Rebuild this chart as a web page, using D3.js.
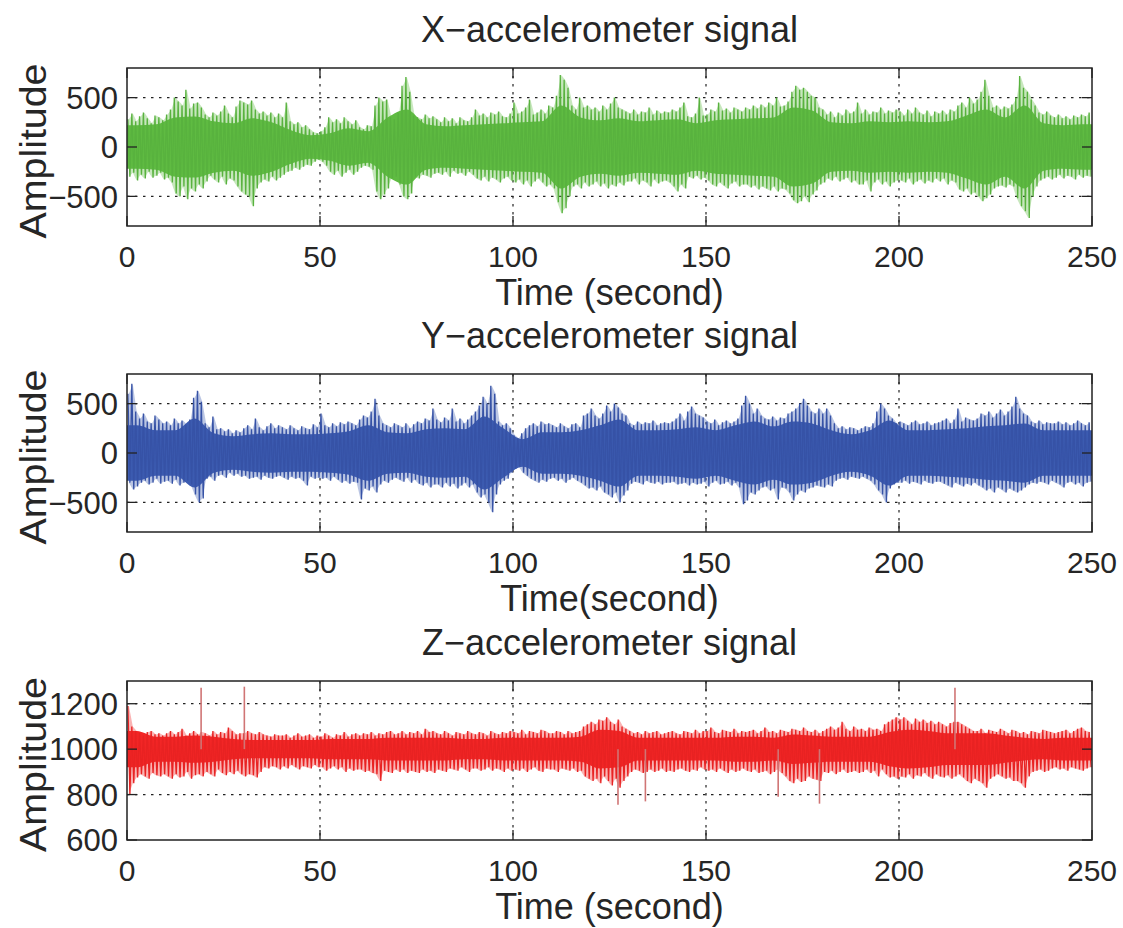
<!DOCTYPE html>
<html><head><meta charset="utf-8">
<script src="https://cdn.jsdelivr.net/npm/d3@7"></script>
<style>
body{margin:0;background:#fff;}
text{font-family:"Liberation Sans",Arial,Helvetica,sans-serif;fill:#262626;}
</style>
</head><body>
<svg id="chart" width="1123" height="928"></svg>
<script>
// ---------- DATA ----------
const xTickValues = [0, 50, 100, 150, 200, 250];
const xyTickValues = [-500, 0, 500];
const zTickValues = [600, 800, 1000, 1200];

// outer envelope (spike tips), 1-second bins, t = 0..249
const xHi = [280,340,260,310,350,290,240,320,300,270, 330,380,500,460,420,580,390,440,450,400,
 330,300,350,320,360,420,340,300,410,470, 450,430,470,380,340,360,320,350,300,340,
 300,450,260,230,250,200,220,180,150,140, 160,200,300,250,280,240,300,260,230,270,
 200,180,220,210,420,500,460,480,300,280, 350,620,710,560,320,300,280,330,290,310,
 280,250,300,260,290,240,300,270,260,300, 380,320,340,300,350,330,360,310,300,340,
 450,340,360,400,480,330,350,380,340,420, 400,520,730,680,600,420,380,500,400,420,
 380,400,360,420,380,440,500,400,380,360, 340,380,330,360,350,400,330,370,340,360,
 350,380,360,400,450,310,300,340,500,320, 330,380,360,450,370,390,350,400,380,360,
 400,380,420,390,430,400,450,420,500,410, 420,460,560,620,580,600,560,520,500,400,
 380,330,360,300,350,320,380,340,360,450, 340,380,330,360,350,400,340,370,350,380,
 360,320,380,340,400,350,330,370,310,360, 340,370,330,380,360,420,450,400,500,440,
 480,560,680,520,400,420,380,410,390,430, 500,720,600,560,480,420,350,330,360,320,
 300,330,290,310,280,320,300,330,310,350];
const xLo = [-300,-260,-340,-280,-320,-250,-310,-290,-260,-330, -310,-360,-470,-500,-400,-530,-420,-450,-380,-420,
 -350,-290,-330,-360,-300,-380,-320,-340,-400,-450, -480,-500,-600,-420,-360,-330,-350,-300,-340,-310,
 -280,-250,-240,-210,-230,-200,-180,-190,-150,-130, -150,-190,-250,-280,-240,-300,-260,-230,-280,-250,
 -210,-190,-200,-230,-450,-530,-480,-420,-320,-300, -380,-500,-530,-470,-300,-320,-280,-290,-310,-270,
 -260,-280,-250,-300,-240,-270,-260,-290,-250,-280, -320,-340,-300,-350,-310,-330,-360,-320,-300,-340,
 -360,-330,-380,-340,-400,-350,-320,-360,-400,-380, -420,-560,-670,-620,-500,-400,-380,-420,-360,-400,
 -380,-350,-400,-370,-420,-380,-400,-360,-390,-350, -350,-320,-380,-340,-360,-400,-330,-370,-350,-340,
 -360,-400,-450,-380,-420,-300,-320,-290,-330,-310, -340,-380,-400,-360,-390,-420,-370,-350,-400,-380,
 -380,-410,-390,-430,-400,-420,-440,-400,-450,-420, -430,-470,-540,-570,-550,-500,-560,-480,-440,-380,
 -360,-320,-340,-300,-350,-330,-310,-360,-340,-380, -380,-340,-450,-360,-330,-380,-350,-400,-360,-340,
 -340,-360,-320,-380,-350,-330,-370,-340,-360,-320, -350,-320,-380,-340,-360,-430,-450,-420,-480,-460,
 -500,-550,-520,-480,-420,-400,-390,-410,-380,-400, -520,-600,-650,-720,-500,-400,-340,-320,-300,-330,
 -310,-280,-320,-290,-300,-330,-280,-310,-290,-300];
// dense-band half width, 5-second bins (50 values)
const xCore = [220,230,300,310,260,240,290,250,170,120,
 140,190,160,300,380,230,210,220,230,240,
 250,260,420,300,270,290,260,270,280,240,
 270,280,290,300,400,370,250,240,260,250,
 260,250,260,320,380,300,420,240,220,230];

const yHi = [600,700,420,350,400,320,300,380,340,300, 320,280,350,300,330,290,340,560,630,520,
 300,260,370,240,250,220,240,200,230,210, 250,280,240,350,260,230,270,300,250,280,
 260,240,280,250,230,270,250,240,290,260, 400,280,260,300,270,310,290,320,300,280,
 340,380,360,420,550,380,300,280,260,300, 280,260,300,250,290,320,300,350,330,450,
 340,310,360,330,450,320,350,300,340,380, 420,480,570,500,680,600,320,280,300,250,
 180,150,200,250,280,300,270,320,290,300, 280,260,300,270,250,290,300,260,380,400,
 450,380,350,400,480,420,500,460,400,380, 300,280,320,290,310,300,330,280,300,310,
 300,320,350,400,330,420,470,400,380,360, 320,300,340,280,310,330,300,320,350,480,
 580,500,400,450,380,350,340,370,330,360, 350,400,420,450,500,550,480,420,400,450,
 400,450,380,300,250,270,240,260,250,230, 250,270,260,300,420,500,450,380,350,300,
 320,300,280,310,330,290,300,320,280,300, 310,330,350,300,340,450,320,360,340,330,
 350,400,380,420,360,400,440,380,420,470, 570,450,400,380,320,300,330,290,310,300,
 300,320,290,310,280,300,330,300,280,310];
const yLo = [-300,-370,-340,-300,-280,-320,-300,-260,-310,-290, -280,-310,-270,-330,-300,-280,-320,-420,-500,-460,
 -260,-240,-280,-230,-220,-250,-200,-230,-210,-240, -230,-260,-250,-240,-270,-230,-250,-260,-240,-230,
 -250,-270,-240,-260,-250,-280,-330,-240,-260,-250, -260,-250,-280,-240,-270,-300,-280,-310,-290,-300,
 -470,-360,-380,-340,-400,-320,-280,-300,-270,-250, -270,-290,-250,-300,-270,-310,-330,-300,-350,-320,
 -320,-350,-300,-340,-310,-360,-330,-300,-350,-320, -400,-450,-420,-500,-600,-420,-320,-280,-260,-200,
 -160,-140,-200,-230,-260,-280,-300,-270,-290,-260, -250,-280,-260,-300,-270,-250,-280,-300,-330,-360,
 -350,-380,-340,-400,-420,-450,-400,-500,-430,-380, -310,-290,-300,-320,-280,-300,-310,-290,-320,-300,
 -300,-290,-320,-310,-300,-330,-300,-320,-310,-290, -340,-300,-280,-320,-310,-290,-330,-300,-350,-520,
 -480,-400,-420,-380,-350,-340,-380,-360,-470,-350, -360,-400,-480,-420,-380,-400,-360,-350,-330,-340,
 -350,-320,-340,-280,-260,-250,-270,-240,-250,-260, -240,-260,-280,-320,-380,-420,-500,-360,-320,-300,
 -300,-280,-310,-290,-300,-320,-280,-300,-310,-290, -290,-310,-330,-350,-300,-320,-340,-310,-330,-300,
 -330,-350,-380,-360,-400,-350,-370,-400,-360,-380, -400,-380,-350,-320,-300,-310,-290,-300,-320,-280,
 -300,-320,-350,-300,-290,-320,-300,-340,-300,-290];
const yCore = [280,230,230,350,200,170,190,200,190,190,
 200,220,280,210,200,240,250,240,370,250,
 140,210,210,230,280,340,230,230,240,260,
 230,280,320,270,320,300,230,190,230,330,
 230,230,240,250,270,280,300,230,230,230];

const zHi = [1190,1100,1080,1070,1060,1075,1080,1065,1070,1060, 1070,1080,1065,1075,1090,1060,1070,1080,1065,1075,
 1070,1060,1080,1065,1075,1070,1095,1080,1065,1070, 1070,1080,1070,1065,1075,1065,1060,1055,1065,1060,
 1060,1065,1050,1060,1070,1055,1060,1065,1050,1060, 1055,1070,1060,1050,1065,1060,1075,1055,1065,1070,
 1060,1070,1065,1075,1060,1070,1065,1075,1080,1065, 1070,1080,1065,1075,1070,1080,1065,1090,1075,1080,
 1070,1065,1080,1070,1060,1075,1070,1065,1080,1070, 1065,1075,1070,1060,1080,1070,1065,1075,1070,1080,
 1075,1070,1085,1065,1080,1075,1070,1085,1080,1070, 1070,1080,1075,1065,1080,1070,1075,1080,1100,1110,
 1120,1110,1130,1125,1140,1120,1110,1130,1100,1090, 1080,1070,1075,1065,1080,1070,1075,1080,1065,1070,
 1075,1080,1070,1065,1080,1075,1070,1085,1070,1080, 1080,1095,1075,1070,1085,1080,1075,1090,1070,1080,
 1075,1080,1085,1070,1080,1095,1075,1080,1070,1085, 1080,1075,1090,1085,1080,1095,1080,1075,1085,1070,
 1080,1090,1100,1085,1095,1120,1090,1080,1100,1085, 1090,1080,1095,1085,1090,1080,1110,1120,1130,1140,
 1130,1140,1125,1110,1135,1120,1130,1115,1125,1110, 1120,1110,1100,1115,1120,1120,1110,1100,1090,1080,
 1080,1090,1070,1085,1080,1075,1090,1080,1070,1085, 1080,1070,1075,1065,1080,1075,1070,1085,1080,1075,
 1070,1075,1080,1085,1070,1080,1090,1095,1080,1075];
const zLo = [800,850,875,890,880,870,895,885,880,890, 880,870,890,875,880,900,870,885,890,880,
 900,890,880,910,895,885,900,890,905,890, 880,890,885,875,900,920,915,925,920,910,
 925,915,930,920,910,925,920,915,930,920, 920,905,915,925,910,920,900,915,905,910,
 910,900,905,895,890,860,905,900,895,910, 900,910,895,905,900,895,910,900,905,895,
 910,905,900,915,910,905,920,910,900,915, 915,905,910,920,905,915,910,900,915,905,
 910,905,915,900,910,920,905,900,915,910, 910,900,915,910,905,915,900,905,880,870,
 860,870,850,880,860,840,870,830,860,880, 900,910,905,895,900,910,900,905,915,900,
 905,900,910,915,905,900,910,905,920,910, 905,910,900,915,905,895,910,900,905,915,
 905,900,910,895,900,905,890,900,910,895, 880,860,850,870,855,860,880,870,865,860,
 900,895,905,890,900,910,895,900,905,895, 900,910,895,905,880,910,890,875,880,870,
 880,875,890,870,885,880,895,880,870,890, 880,875,885,870,880,890,875,860,850,870,
 860,850,830,870,880,890,880,870,875,860, 860,850,830,880,900,905,910,900,905,915,
 920,910,915,905,920,915,910,905,915,920];
const zCore = [80,55,55,60,55,45,40,40,40,40,
 45,45,45,50,50,50,50,45,45,50,
 50,50,50,55,85,80,50,50,50,50,
 50,55,55,50,65,60,55,55,55,75,
 85,80,70,70,70,60,50,45,50,50];

// isolated thin spikes in the Z signal (time, value)
const zSpikeT = [19.2, 30.4, 127.2, 134.3, 168.7, 179.4, 214.5];
const zSpikeV = [1270, 1275, 755, 770, 790, 760, 1270];

// ---------- LAYOUT ----------
const svg = d3.select("#chart");
const L = 127, R = 1092;
const panels = [
  {title:"X\u2212accelerometer signal", xlabel:"Time (second)", hi:xHi, lo:xLo, core:xCore, center:0,
   fill:"#5fbb42", stroke:"#58b23e",
   domain:[-800,800], ticks:xyTickValues, grid:[-500,0,500], top:68, bottom:226},
  {title:"Y\u2212accelerometer signal", xlabel:"Time(second)", hi:yHi, lo:yLo, core:yCore, center:0,
   fill:"#3c5bb0", stroke:"#3652a6",
   domain:[-800,800], ticks:xyTickValues, grid:[-500,0,500], top:374, bottom:532},
  {title:"Z\u2212accelerometer signal", xlabel:"Time (second)", hi:zHi, lo:zLo, core:zCore, center:1000,
   fill:"#f22626", stroke:"#e82222",
   domain:[600,1300], ticks:zTickValues, grid:[800,1000,1200], top:681, bottom:840,
   spikes:true}
];

const x = d3.scaleLinear().domain([0,250]).range([L,R]);
const tickLen = 10;

panels.forEach((p,k)=>{
  const y = d3.scaleLinear().domain(p.domain).range([p.bottom,p.top]);
  const g = svg.append("g");
  const clipId = "clip"+k;
  svg.append("clipPath").attr("id",clipId).append("rect")
     .attr("x",L).attr("y",p.top).attr("width",R-L).attr("height",p.bottom-p.top);

  // grid (below data)
  const grid = g.append("g").attr("stroke","#222").attr("stroke-width",1.2)
     .attr("stroke-dasharray","2.5,5.5").attr("fill","none");
  xTickValues.slice(1,-1).forEach(t=>{
    grid.append("line").attr("x1",x(t)).attr("x2",x(t)).attr("y1",p.top).attr("y2",p.bottom);
  });
  p.grid.forEach(v=>{
    grid.append("line").attr("x1",L).attr("x2",R).attr("y1",y(v)).attr("y2",y(v));
  });

  const dg = g.append("g").attr("clip-path","url(#"+clipId+")");

  // faint envelope (sparse spike zone)
  const bins = p.hi.map((h,i)=>({t:i+0.5, hi:h, lo:p.lo[i]}));
  const envArea = d3.area().x(d=>x(d.t)).y0(d=>y(d.lo)).y1(d=>y(d.hi));
  dg.append("path").attr("d",envArea(bins)).attr("fill",p.fill).attr("fill-opacity",0.35);

  // dense band (5-second bins)
  const coreBins = p.core.map((c,i)=>({t:i*5+2.5, a:c}));
  coreBins.unshift({t:0, a:p.core[0]});
  coreBins.push({t:250, a:p.core[p.core.length-1]});
  const area = d3.area().curve(d3.curveMonotoneX)
     .x(d=>x(d.t)).y0(d=>y(p.center-d.a)).y1(d=>y(p.center+d.a));
  dg.append("path").attr("d",area(coreBins)).attr("fill",p.fill).attr("stroke","none");

  // signal spikes: zig-zag between envelope values in each 1-second bin
  const pts = [];
  p.hi.forEach((h,i)=>{ pts.push([i+0.25,h]); pts.push([i+0.75,p.lo[i]]); });
  const line = d3.line().x(d=>x(d[0])).y(d=>y(d[1]));
  dg.append("path").attr("d",line(pts)).attr("fill","none")
    .attr("stroke",p.stroke).attr("stroke-width",1.3);

  if(p.spikes){
    zSpikeT.forEach((t,i)=>{
      dg.append("line").attr("x1",x(t)).attr("x2",x(t))
        .attr("y1",y(1000)).attr("y2",y(zSpikeV[i]))
        .attr("stroke","#d07575").attr("stroke-width",1.6);
    });
  }

  // ticks (inward, all four sides)
  const tk = g.append("g").attr("stroke","#222").attr("stroke-width",1.3);
  xTickValues.forEach(t=>{
    tk.append("line").attr("x1",x(t)).attr("x2",x(t)).attr("y1",p.bottom).attr("y2",p.bottom-tickLen);
    tk.append("line").attr("x1",x(t)).attr("x2",x(t)).attr("y1",p.top).attr("y2",p.top+tickLen);
  });
  p.ticks.forEach(v=>{
    tk.append("line").attr("x1",L).attr("x2",L+tickLen).attr("y1",y(v)).attr("y2",y(v));
    tk.append("line").attr("x1",R).attr("x2",R-tickLen).attr("y1",y(v)).attr("y2",y(v));
  });

  // box
  g.append("rect").attr("x",L).attr("y",p.top).attr("width",R-L).attr("height",p.bottom-p.top)
   .attr("fill","none").attr("stroke","#222").attr("stroke-width",1.5);

  // tick labels
  const fmt = d3.format("d");
  xTickValues.forEach(t=>{
    g.append("text").attr("x",x(t)).attr("y",p.bottom+41).attr("text-anchor","middle")
     .attr("font-size",30).text(fmt(t));
  });
  p.ticks.forEach(v=>{
    g.append("text").attr("x",L-9).attr("y",y(v)).attr("dy","0.36em").attr("text-anchor","end")
     .attr("font-size",31).text(fmt(v));
  });

  // title and labels
  const cx = (L+R)/2;
  g.append("text").attr("x",cx).attr("y",p.top-26).attr("text-anchor","middle")
   .attr("font-size",36).text(p.title);
  g.append("text").attr("x",cx).attr("y",p.bottom+79).attr("text-anchor","middle")
   .attr("font-size",36).text(p.xlabel);
  g.append("text").attr("transform",`translate(46,${(p.top+p.bottom)/2+4}) rotate(-90)`)
   .attr("text-anchor","middle").attr("font-size",36)
   .attr("textLength",175).attr("lengthAdjust","spacingAndGlyphs").text("Amplitude");
});
</script>
</body></html>
